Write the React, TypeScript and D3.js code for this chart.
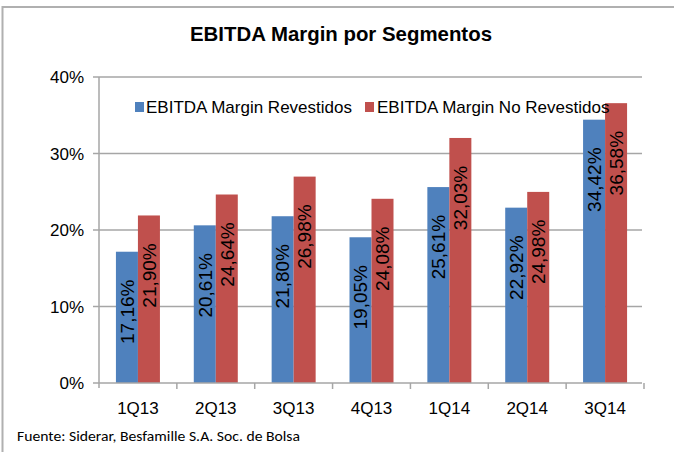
import React from 'react';
import * as d3 from 'd3';

const categories = ['1Q13', '2Q13', '3Q13', '4Q13', '1Q14', '2Q14', '3Q14'];
const revestidos = [17.16, 20.61, 21.8, 19.05, 25.61, 22.92, 34.42];
const noRevestidos = [21.9, 24.64, 26.98, 24.08, 32.03, 24.98, 36.58];
const yTicks = [0, 10, 20, 30, 40];
const seriesNames = ['EBITDA Margin Revestidos', 'EBITDA Margin No Revestidos'];
const seriesColors = ['#4F81BD', '#C0504D'];
const title = 'EBITDA Margin por Segmentos';
const source = 'Fuente: Siderar, Besfamille S.A. Soc. de Bolsa';

const W = 674;
const H = 452;
const left = 99;
const right = 644;
const top = 77;
const bottom = 383;

export default function App() {
  const x = d3.scaleBand<string>().domain(categories).range([left, right]).padding(0);
  const y = d3.scaleLinear().domain([0, 40]).range([bottom, top]);
  const barW = 22;
  const sub = d3.scaleBand<number>().domain([0, 1]).range([0, barW * 2]).padding(0);
  const groupOffset = (x.bandwidth() - barW * 2) / 2;
  const series = [revestidos, noRevestidos];
  const fmt = (v: number) => v.toFixed(2).replace('.', ',') + '%';
  const font = "'Liberation Sans', Arial, sans-serif";
  const labelFs = 19;
  const gridColor = '#a6a6a6';

  return (
    <svg width={W} height={H} style={{ position: 'absolute', left: 0, top: 0, background: '#fff' }} fontFamily={font}>
      <rect x={0} y={0} width={W} height={H} fill="#fff" />
      {/* frame */}
      <line x1={2.5} y1={7} x2={W} y2={7} stroke="#b0b0b0" strokeWidth={2} />
      <line x1={2.5} y1={6} x2={2.5} y2={H} stroke="#b0b0b0" strokeWidth={2} />

      <text x={(190 + 492) / 2} y={41} textAnchor="middle" fontSize={20.5} fontWeight="bold" fill="#000" textLength={302} lengthAdjust="spacingAndGlyphs">
        {title}
      </text>

      {/* gridlines */}
      {yTicks.filter((t) => t > 0).map((t) => (
        <line key={'g' + t} x1={left} x2={right - 2} y1={y(t)} y2={y(t)} stroke={gridColor} strokeWidth={1.5} />
      ))}
      {/* y ticks */}
      {yTicks.map((t) => (
        <g key={'yt' + t}>
          <line x1={left - 6} x2={left} y1={y(t)} y2={y(t)} stroke={gridColor} strokeWidth={1.5} />
          <text x={84} y={y(t) + 6} textAnchor="end" fontSize={17} fill="#000">
            {t + '%'}
          </text>
        </g>
      ))}

      {/* bars */}
      {categories.map((c, i) => (
        <g key={c}>
          {series.map((s, k) => {
            const bx = (x(c) as number) + groupOffset + (sub(k) as number);
            const by = y(s[i]);
            return (
              <rect key={k} x={bx} y={by} width={sub.bandwidth()} height={bottom - by} fill={seriesColors[k]} />
            );
          })}
        </g>
      ))}

      {/* axes */}
      <line x1={left} x2={left} y1={top} y2={bottom + 5} stroke={gridColor} strokeWidth={1.5} />
      <line x1={left} x2={right - 2} y1={bottom} y2={bottom} stroke={gridColor} strokeWidth={1.5} />
      {categories.map((c, i) => (
        <line key={'xt' + c} x1={(x(c) as number) + x.bandwidth()} x2={(x(c) as number) + x.bandwidth()} y1={bottom} y2={bottom + 6} stroke={gridColor} strokeWidth={1.5} />
      ))}
      {categories.map((c) => (
        <text key={'xl' + c} x={(x(c) as number) + x.bandwidth() / 2} y={414} textAnchor="middle" fontSize={17} fill="#000">
          {c}
        </text>
      ))}

      {/* data labels */}
      {categories.map((c, i) => (
        <g key={'lab' + c}>
          {series.map((s, k) => {
            const cx = (x(c) as number) + groupOffset + (sub(k) as number) + sub.bandwidth() / 2;
            const cy = y(s[i]) + 60;
            const bx = cx + labelFs * 0.36;
            return (
              <text key={k} transform={`translate(${bx},${cy}) rotate(-90)`} textAnchor="middle" fontSize={labelFs} fill="#000">
                {fmt(s[i])}
              </text>
            );
          })}
        </g>
      ))}

      {/* legend */}
      <rect x={135} y={102} width={9} height={10} fill={seriesColors[0]} />
      <text x={146} y={113} fontSize={17} fill="#000">{seriesNames[0]}</text>
      <rect x={365} y={102} width={9} height={10} fill={seriesColors[1]} />
      <text x={377} y={113} fontSize={17} fill="#000">{seriesNames[1]}</text>

      <text x={17} y={441} fontSize={14} fill="#000" fontFamily="Carlito, Calibri, 'Liberation Sans Narrow', 'Open Sans', sans-serif" textLength={283} lengthAdjust="spacingAndGlyphs">
        {source}
      </text>
    </svg>
  );
}
